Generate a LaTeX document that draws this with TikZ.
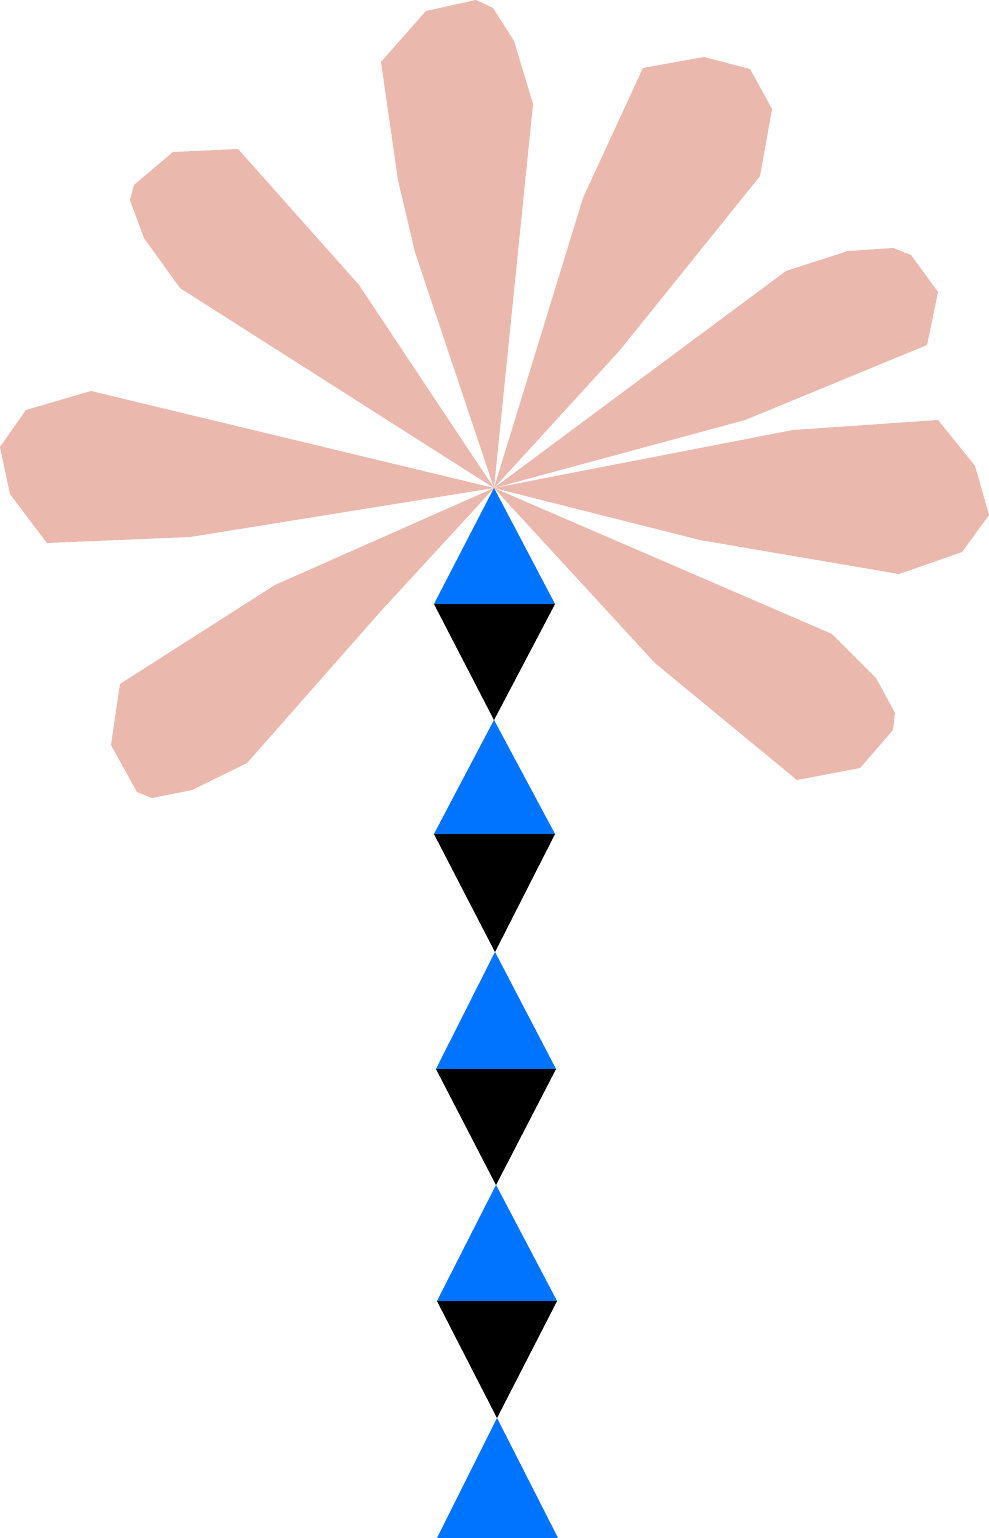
\documentclass[tikz,border=0pt]{standalone}
\begin{document}
\begin{tikzpicture}[x=0.5pt,y=-0.5pt]
\definecolor{petal}{HTML}{EBB8AE}
\definecolor{tri}{HTML}{0073FF}
\tikzset{petalsty/.style={fill=petal,draw=none},bluetri/.style={fill=tri,draw=none},blacktri/.style={fill=black,draw=none}}
\useasboundingbox (0,0) rectangle (989,1538);
\fill[petalsty] (494,488)--(415,252)--(398,180)--(381,62)--(426,11)--(476,0)--(493,8)--(514,41)--(533,104)--cycle;
\fill[petalsty] (494,488)--(583,198)--(643,68)--(704,57)--(750,69)--(772,109)--(760,176)--(620,350)--cycle;
\fill[petalsty] (494,488)--(786,271)--(848,251)--(893,248)--(911,255)--(938,292)--(927,345)--(745,420)--cycle;
\fill[petalsty] (494,488)--(793,430)--(938,420)--(975,466)--(989,515)--(962,552)--(899,574)--(700,540)--cycle;
\fill[petalsty] (494,488)--(832,634)--(876,678)--(895,713)--(893,730)--(860,768)--(797,780)--(655,663)--cycle;
\fill[petalsty] (494,488)--(275,585)--(120,684)--(111,745)--(137,792)--(152,798)--(192,790)--(247,763)--(380,612)--cycle;
\fill[petalsty] (494,488)--(91,391)--(26,410)--(0,447)--(10,494)--(47,543)--(190,537)--cycle;
\fill[petalsty] (494,488)--(180,288)--(144,238)--(130,200)--(134,185)--(173,152)--(238,149)--(359,285)--cycle;
\fill[bluetri] (494,488)--(555,604)--(434,604)--cycle;
\fill[blacktri] (434,604)--(555,604)--(494,720)--cycle;
\fill[bluetri] (494,720)--(555,834)--(434,834)--cycle;
\fill[blacktri] (434,834)--(555,834)--(495,952)--cycle;
\fill[bluetri] (495,952)--(556,1069)--(436,1069)--cycle;
\fill[blacktri] (436,1069)--(556,1069)--(496,1185)--cycle;
\fill[bluetri] (496,1185)--(557,1301)--(437,1301)--cycle;
\fill[blacktri] (437,1301)--(557,1301)--(497,1418)--cycle;
\fill[bluetri] (497,1418)--(558,1538)--(437,1538)--cycle;
\end{tikzpicture}
\end{document}
